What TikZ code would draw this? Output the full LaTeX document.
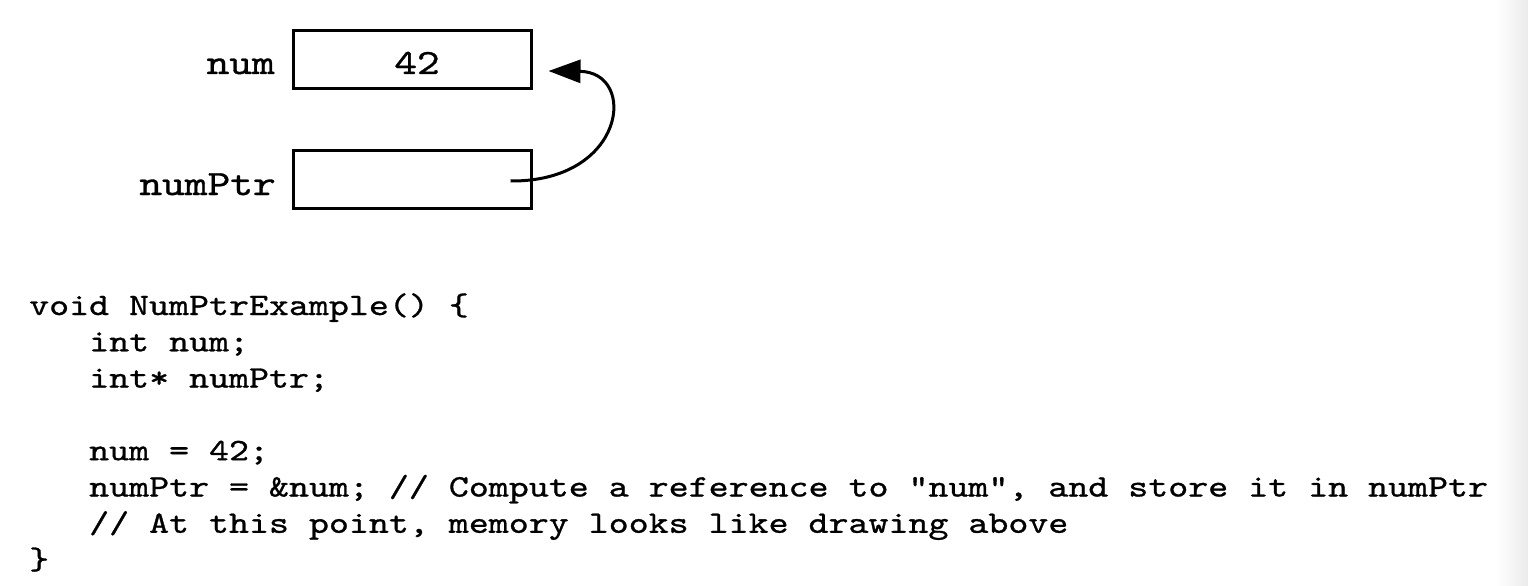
\documentclass[tikz,border=0pt]{standalone}
\usepackage{fontspec}
\newfontfamily\codefont[FakeStretch=1.22,FakeBold=0.9]{lmmono10-regular.otf}
\usetikzlibrary{arrows.meta}
\tikzset{
  membox/.style={draw=black, line width=3pt, minimum width=238pt, minimum height=58pt, inner sep=0pt},
  varlabel/.style={anchor=base east, inner sep=0pt, font=\codefont\fontsize{35.5}{40}\selectfont},
  valtext/.style={anchor=base, inner sep=0pt, font=\codefont\fontsize{35.5}{40}\selectfont},
  codeline/.style={anchor=base west, inner sep=0pt, font=\codefont\fontsize{31.2}{36}\selectfont},
  ptrarrow/.style={line width=3pt, -{Triangle[length=32pt,width=23pt]}},
}
\begin{document}
\begin{tikzpicture}[x=1pt,y=-1pt]
\useasboundingbox (0,0) rectangle (1528,586);
\fill[white] (0,0) rectangle (1528,586);
\shade[left color=white, right color=black!8, draw=none] (1496,0) rectangle (1528,586);
% memory boxes
\node[membox] (numbox) at (412.5,59.5) {};
\node[membox] (ptrbox) at (412.5,179.5) {};
\node[valtext] (numval) at (417,74) {42};
\node[varlabel] (numlbl) at (275,74) {num};
\node[varlabel] (ptrlbl) at (276,195) {numPtr};
% pointer arrow
\coordinate (ptrstart) at ([shift={(-22.5,1.5)}]ptrbox.east);
\coordinate (ptrend) at ([shift={(15.5,11.5)}]numbox.east);
\draw[ptrarrow] (ptrstart) .. controls (626,182) and (638,72) .. (ptrend);
% code
\node[codeline] (c1) at (29,315) {void NumPtrExample() \{};
\node[codeline] (c2) at (89,351.3) {int num;};
\node[codeline] (c3) at (89,387.6) {int* numPtr;};
\node[codeline] (c5) at (89,460.2) {num = 42;};
\node[codeline] (c6) at (89,496.5) {numPtr = \&num; // Compute a reference to "num", and store it in numPtr};
\node[codeline] (c7) at (89,532.8) {// At this point, memory looks like drawing above};
\node[codeline] (c8) at (29,569.1) {\}};
\end{tikzpicture}
\end{document}
